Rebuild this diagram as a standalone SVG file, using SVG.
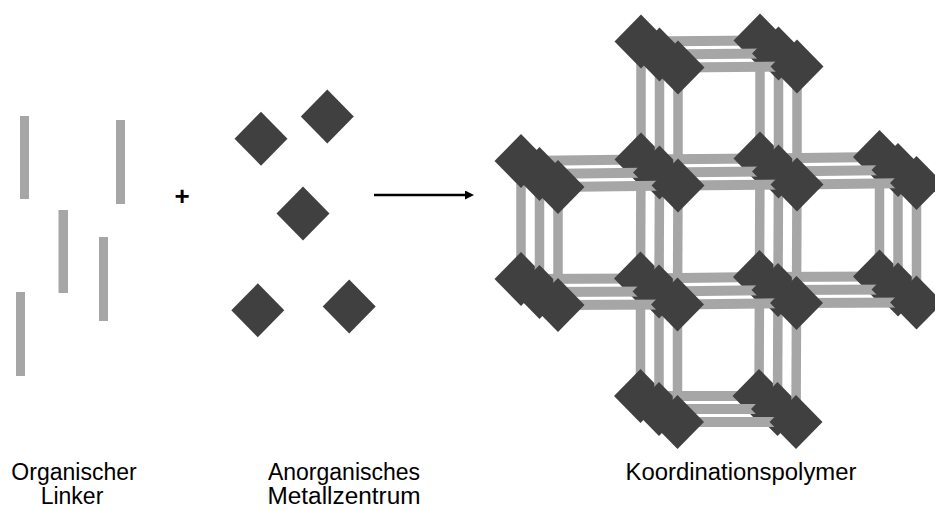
<svg xmlns="http://www.w3.org/2000/svg" width="935" height="510" viewBox="0 0 935 510">
<style>
.rod{fill:#a6a6a6}
.h{stroke:#a6a6a6;stroke-width:10;stroke-linecap:butt;fill:none}
.v{stroke:#a6a6a6;stroke-width:9.5;stroke-linecap:butt;fill:none}
.m{fill:#404040}
.lbl{font-family:"Liberation Sans",Arial,sans-serif;font-size:23px;fill:#000;text-anchor:middle}
.plus{font-family:"Liberation Sans",Arial,sans-serif;font-size:26px;font-weight:bold;fill:#000;text-anchor:middle}
</style>
<defs>
<path id="dia" d="M0,-27 L26.5,0 L0,27 L-26.5,0 Z"/>
<marker id="ah" markerUnits="userSpaceOnUse" markerWidth="10" markerHeight="10" refX="0" refY="4.5" orient="auto"><path d="M0,0 L9,4.5 L0,9 Z" fill="#000"/></marker>
</defs>
<rect width="935" height="510" fill="#fff"/>

<!-- organic linkers -->
<g id="linker1"><rect class="rod" x="20" y="116" width="9" height="83"/></g>
<g id="linker2"><rect class="rod" x="116" y="120" width="9" height="84"/></g>
<g id="linker3"><rect class="rod" x="58.5" y="210" width="9.5" height="83"/></g>
<g id="linker4"><rect class="rod" x="99" y="237" width="9" height="84"/></g>
<g id="linker5"><rect class="rod" x="16" y="292" width="9" height="84"/></g>

<text class="plus" x="182" y="205">+</text>

<!-- metal centres -->
<g id="metal1"><use href="#dia" class="m" x="261" y="138.7"/></g>
<g id="metal2"><use href="#dia" class="m" x="327.3" y="116.5"/></g>
<g id="metal3"><use href="#dia" class="m" x="303" y="213.5"/></g>
<g id="metal4"><use href="#dia" class="m" x="257.8" y="310.3"/></g>
<g id="metal5"><use href="#dia" class="m" x="349.2" y="306.5"/></g>

<g id="reaction-arrow"><line x1="374" y1="195" x2="465" y2="195" stroke="#000" stroke-width="2.3" marker-end="url(#ah)"/></g>

<!-- coordination polymer: three stacked layers -->
<g id="layer0">
 <g id="connectors-0">
  <line class="h" x1="641" y1="41.5" x2="760" y2="40.5"/>
  <line class="h" x1="521" y1="161" x2="641" y2="159.5"/>
  <line class="h" x1="641" y1="159.5" x2="760" y2="158.5"/>
  <line class="h" x1="760" y1="158.5" x2="879.5" y2="157"/>
  <line class="h" x1="521" y1="279" x2="640.5" y2="278.5"/>
  <line class="h" x1="640.5" y1="278.5" x2="759.5" y2="277"/>
  <line class="h" x1="759.5" y1="277" x2="879.5" y2="276.5"/>
  <line class="h" x1="640.5" y1="396" x2="759" y2="396"/>
  <line class="v" x1="521" y1="161" x2="521" y2="279"/>
  <line class="v" x1="641" y1="41.5" x2="641" y2="159.5"/>
  <line class="v" x1="641" y1="159.5" x2="640.5" y2="278.5"/>
  <line class="v" x1="640.5" y1="278.5" x2="640.5" y2="396"/>
  <line class="v" x1="760" y1="40.5" x2="760" y2="158.5"/>
  <line class="v" x1="760" y1="158.5" x2="759.5" y2="277"/>
  <line class="v" x1="759.5" y1="277" x2="759" y2="396"/>
  <line class="v" x1="879.5" y1="157" x2="879.5" y2="276.5"/>
 </g>
 <g id="n-r0c1-0"><use href="#dia" class="m" x="641" y="41.5"/></g>
 <g id="n-r0c2-0"><use href="#dia" class="m" x="760" y="40.5"/></g>
 <g id="n-r1c0-0"><use href="#dia" class="m" x="521" y="161"/></g>
 <g id="n-r1c1-0"><use href="#dia" class="m" x="641" y="159.5"/></g>
 <g id="n-r1c2-0"><use href="#dia" class="m" x="760" y="158.5"/></g>
 <g id="n-r1c3-0"><use href="#dia" class="m" x="879.5" y="157"/></g>
 <g id="n-r2c0-0"><use href="#dia" class="m" x="521" y="279"/></g>
 <g id="n-r2c1-0"><use href="#dia" class="m" x="640.5" y="278.5"/></g>
 <g id="n-r2c2-0"><use href="#dia" class="m" x="759.5" y="277"/></g>
 <g id="n-r2c3-0"><use href="#dia" class="m" x="879.5" y="276.5"/></g>
 <g id="n-r3c1-0"><use href="#dia" class="m" x="640.5" y="396"/></g>
 <g id="n-r3c2-0"><use href="#dia" class="m" x="759" y="396"/></g>
</g>

<g id="layer1" transform="translate(18.5,13)">
 <g id="connectors-1">
  <line class="h" x1="641" y1="41.5" x2="760" y2="40.5"/>
  <line class="h" x1="521" y1="161" x2="641" y2="159.5"/>
  <line class="h" x1="641" y1="159.5" x2="760" y2="158.5"/>
  <line class="h" x1="760" y1="158.5" x2="879.5" y2="157"/>
  <line class="h" x1="521" y1="279" x2="640.5" y2="278.5"/>
  <line class="h" x1="640.5" y1="278.5" x2="759.5" y2="277"/>
  <line class="h" x1="759.5" y1="277" x2="879.5" y2="276.5"/>
  <line class="h" x1="640.5" y1="396" x2="759" y2="396"/>
  <line class="v" x1="521" y1="161" x2="521" y2="279"/>
  <line class="v" x1="641" y1="41.5" x2="641" y2="159.5"/>
  <line class="v" x1="641" y1="159.5" x2="640.5" y2="278.5"/>
  <line class="v" x1="640.5" y1="278.5" x2="640.5" y2="396"/>
  <line class="v" x1="760" y1="40.5" x2="760" y2="158.5"/>
  <line class="v" x1="760" y1="158.5" x2="759.5" y2="277"/>
  <line class="v" x1="759.5" y1="277" x2="759" y2="396"/>
  <line class="v" x1="879.5" y1="157" x2="879.5" y2="276.5"/>
 </g>
 <g id="n-r0c1-1"><use href="#dia" class="m" x="641" y="41.5"/></g>
 <g id="n-r0c2-1"><use href="#dia" class="m" x="760" y="40.5"/></g>
 <g id="n-r1c0-1"><use href="#dia" class="m" x="521" y="161"/></g>
 <g id="n-r1c1-1"><use href="#dia" class="m" x="641" y="159.5"/></g>
 <g id="n-r1c2-1"><use href="#dia" class="m" x="760" y="158.5"/></g>
 <g id="n-r1c3-1"><use href="#dia" class="m" x="879.5" y="157"/></g>
 <g id="n-r2c0-1"><use href="#dia" class="m" x="521" y="279"/></g>
 <g id="n-r2c1-1"><use href="#dia" class="m" x="640.5" y="278.5"/></g>
 <g id="n-r2c2-1"><use href="#dia" class="m" x="759.5" y="277"/></g>
 <g id="n-r2c3-1"><use href="#dia" class="m" x="879.5" y="276.5"/></g>
 <g id="n-r3c1-1"><use href="#dia" class="m" x="640.5" y="396"/></g>
 <g id="n-r3c2-1"><use href="#dia" class="m" x="759" y="396"/></g>
</g>

<g id="layer2" transform="translate(37,26)">
 <g id="connectors-2">
  <line class="h" x1="641" y1="41.5" x2="760" y2="40.5"/>
  <line class="h" x1="521" y1="161" x2="641" y2="159.5"/>
  <line class="h" x1="641" y1="159.5" x2="760" y2="158.5"/>
  <line class="h" x1="760" y1="158.5" x2="879.5" y2="157"/>
  <line class="h" x1="521" y1="279" x2="640.5" y2="278.5"/>
  <line class="h" x1="640.5" y1="278.5" x2="759.5" y2="277"/>
  <line class="h" x1="759.5" y1="277" x2="879.5" y2="276.5"/>
  <line class="h" x1="640.5" y1="396" x2="759" y2="396"/>
  <line class="v" x1="521" y1="161" x2="521" y2="279"/>
  <line class="v" x1="641" y1="41.5" x2="641" y2="159.5"/>
  <line class="v" x1="641" y1="159.5" x2="640.5" y2="278.5"/>
  <line class="v" x1="640.5" y1="278.5" x2="640.5" y2="396"/>
  <line class="v" x1="760" y1="40.5" x2="760" y2="158.5"/>
  <line class="v" x1="760" y1="158.5" x2="759.5" y2="277"/>
  <line class="v" x1="759.5" y1="277" x2="759" y2="396"/>
  <line class="v" x1="879.5" y1="157" x2="879.5" y2="276.5"/>
 </g>
 <g id="n-r0c1-2"><use href="#dia" class="m" x="641" y="41.5"/></g>
 <g id="n-r0c2-2"><use href="#dia" class="m" x="760" y="40.5"/></g>
 <g id="n-r1c0-2"><use href="#dia" class="m" x="521" y="161"/></g>
 <g id="n-r1c1-2"><use href="#dia" class="m" x="641" y="159.5"/></g>
 <g id="n-r1c2-2"><use href="#dia" class="m" x="760" y="158.5"/></g>
 <g id="n-r1c3-2"><use href="#dia" class="m" x="879.5" y="157"/></g>
 <g id="n-r2c0-2"><use href="#dia" class="m" x="521" y="279"/></g>
 <g id="n-r2c1-2"><use href="#dia" class="m" x="640.5" y="278.5"/></g>
 <g id="n-r2c2-2"><use href="#dia" class="m" x="759.5" y="277"/></g>
 <g id="n-r2c3-2"><use href="#dia" class="m" x="879.5" y="276.5"/></g>
 <g id="n-r3c1-2"><use href="#dia" class="m" x="640.5" y="396"/></g>
 <g id="n-r3c2-2"><use href="#dia" class="m" x="759" y="396"/></g>
</g>

<!-- labels -->
<g id="label-linker">
 <text class="lbl" x="74" y="480">Organischer</text>
 <text class="lbl" x="72" y="504">Linker</text>
</g>
<g id="label-metal">
 <text class="lbl" x="344" y="480">Anorganisches</text>
 <text class="lbl" x="344" y="504" textLength="153" lengthAdjust="spacingAndGlyphs">Metallzentrum</text>
</g>
<g id="label-polymer">
 <text class="lbl" x="741" y="480" textLength="231" lengthAdjust="spacingAndGlyphs">Koordinationspolymer</text>
</g>
</svg>
